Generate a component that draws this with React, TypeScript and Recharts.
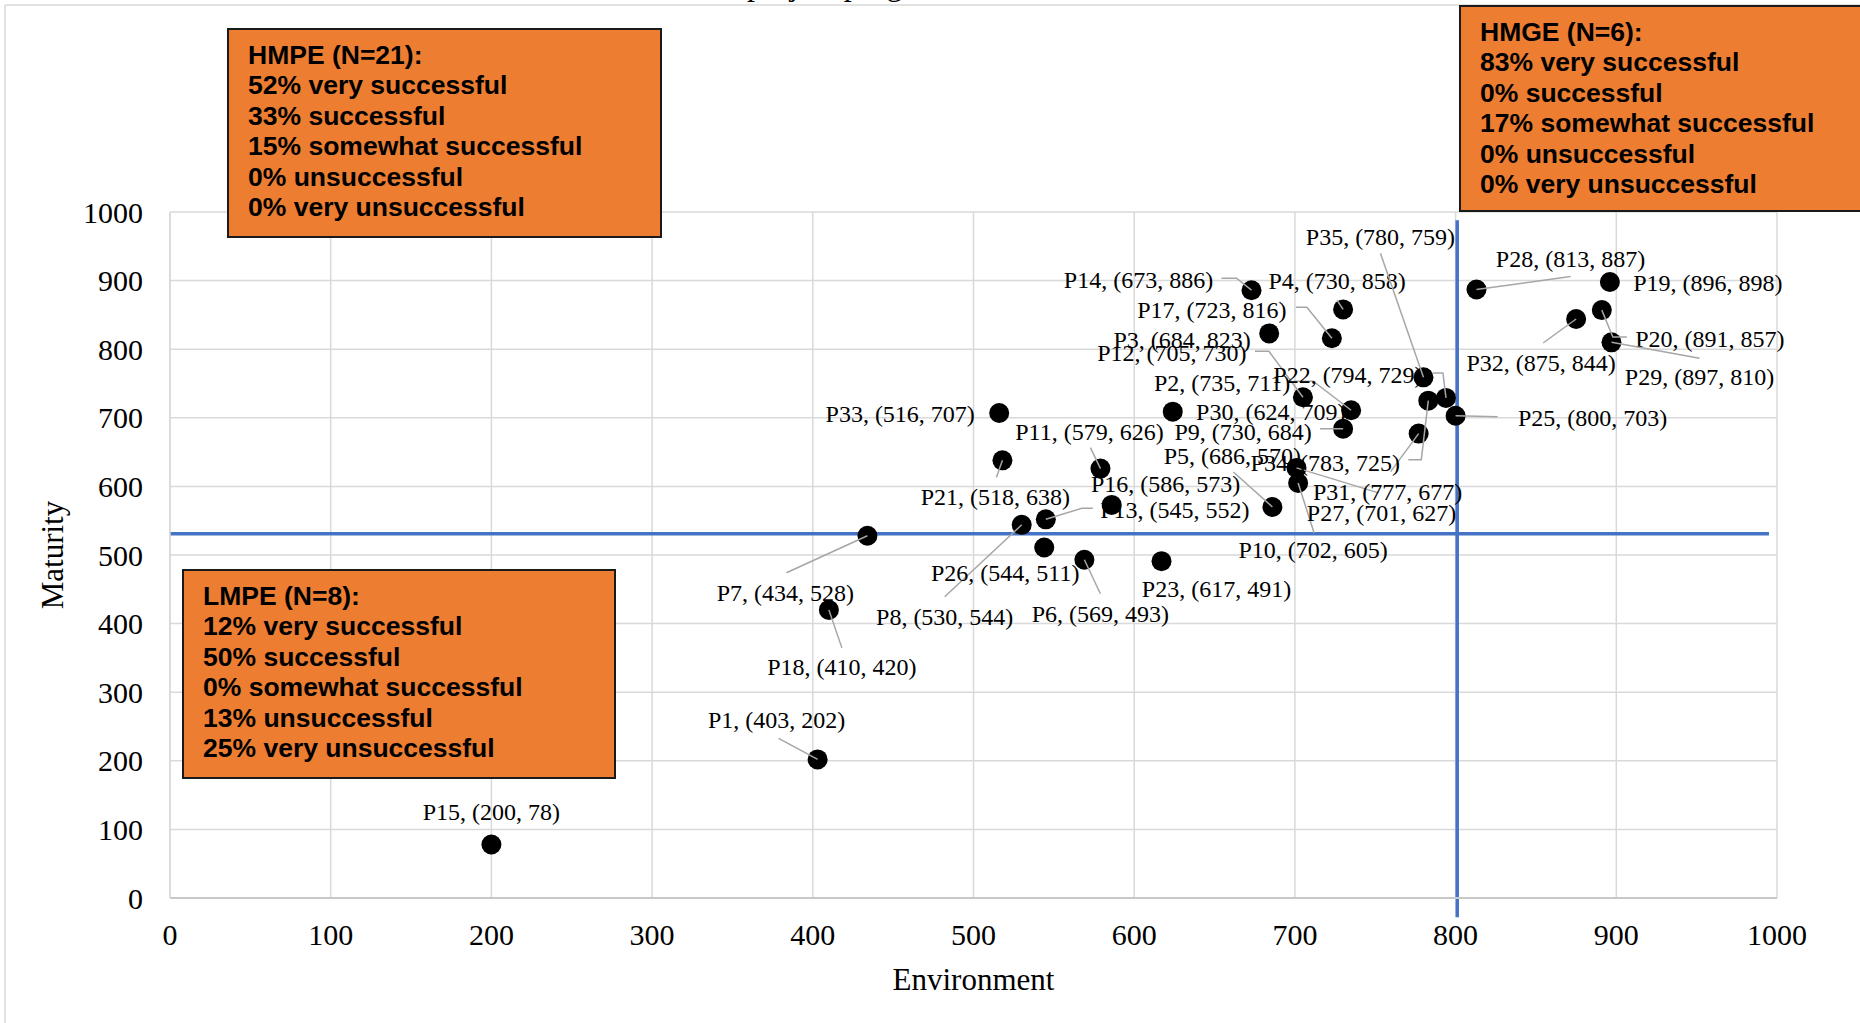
import {
  CartesianGrid,
  ReferenceLine,
  Scatter,
  ScatterChart,
  XAxis,
  YAxis,
} from "recharts";

const pointIds = [
  "P1", "P2", "P3", "P4", "P5", "P6", "P7", "P8", "P9", "P10", "P11", "P12",
  "P13", "P14", "P15", "P16", "P17", "P18", "P19", "P20", "P21", "P22", "P23",
  "P25", "P26", "P27", "P28", "P29", "P30", "P31", "P32", "P33", "P34", "P35",
];
const environment = [
  403, 735, 684, 730, 686, 569, 434, 530, 730, 702, 579, 705,
  545, 673, 200, 586, 723, 410, 896, 891, 518, 794, 617,
  800, 544, 701, 813, 897, 624, 777, 875, 516, 783, 780,
];
const maturity = [
  202, 711, 823, 858, 570, 493, 528, 544, 684, 605, 626, 730,
  552, 886, 78, 573, 816, 420, 898, 857, 638, 729, 491,
  703, 511, 627, 887, 810, 709, 677, 844, 707, 725, 759,
];
const axisTicks = [0, 100, 200, 300, 400, 500, 600, 700, 800, 900, 1000];

// quadrant split lines
const splitEnvironment = 801;
const splitMaturity = 531;

const hmpeLines = [
  "HMPE (N=21):",
  "52% very successful",
  "33% successful",
  "15% somewhat successful",
  "0% unsuccessful",
  "0% very unsuccessful",
];
const hmgeLines = [
  "HMGE (N=6):",
  "83% very successful",
  "0% successful",
  "17% somewhat successful",
  "0% unsuccessful",
  "0% very unsuccessful",
];
const lmpeLines = [
  "LMPE (N=8):",
  "12% very successful",
  "50% successful",
  "0% somewhat successful",
  "13% unsuccessful",
  "25% very unsuccessful",
];

const data = pointIds.map((id, i) => ({
  id,
  x: environment[i],
  y: maturity[i],
}));

// label placement (pixel offsets from the dot), leader = polyline start points
type LabelPos = { dx: number; dy: number; leader?: [number, number][] };
const labelLayout: Record<string, LabelPos> = {
  P1: { dx: -41, dy: -39, leader: [[-39, -21]] },
  P2: { dx: -129, dy: -27, leader: [[-58, -29], [-38, -29]] },
  P3: { dx: -87, dy: 7 },
  P4: { dx: -6, dy: -28, leader: [[-6, -9]] },
  P5: { dx: -40, dy: -51, leader: [[-39, -35]] },
  P6: { dx: 16, dy: 54, leader: [[16, 34]] },
  P7: { dx: -82, dy: 57, leader: [[-81, 37]] },
  P8: { dx: -77, dy: 92, leader: [[-77, 72]] },
  P9: { dx: -100, dy: 3, leader: [[-23, 0]] },
  P10: { dx: 15, dy: 67, leader: [[16, 50]] },
  P11: { dx: -11, dy: -37, leader: [[-10, -21]] },
  P12: { dx: -131, dy: -44, leader: [[-48, -46], [-34, -46]] },
  P13: { dx: 129, dy: -9, leader: [[47, -11], [36, -11]] },
  P14: { dx: -113, dy: -10, leader: [[-30, -12], [-15, -12]] },
  P15: { dx: 0, dy: -32 },
  P16: { dx: 54, dy: -21 },
  P17: { dx: -120, dy: -28, leader: [[-36, -31], [-25, -31]] },
  P18: { dx: 13, dy: 57, leader: [[13, 38]] },
  P19: { dx: 98, dy: 1 },
  P20: { dx: 108, dy: 29, leader: [[25, 27], [11, 27]] },
  P21: { dx: -7, dy: 37, leader: [[-6, 17]] },
  P22: { dx: -98, dy: -23, leader: [[-13, -25], [-3, -25]] },
  P23: { dx: 55, dy: 28 },
  P25: { dx: 137, dy: 2, leader: [[42, 1]] },
  P26: { dx: -39, dy: 26 },
  P27: { dx: 85, dy: 45, leader: [[82, 25]] },
  P28: { dx: 94, dy: -31, leader: [[94, -13]] },
  P29: { dx: 88, dy: 35, leader: [[88, 16]] },
  P30: { dx: 98, dy: 0 },
  P31: { dx: -31, dy: 58, leader: [[-28, 38]] },
  P32: { dx: -35, dy: 44, leader: [[-33, 24]] },
  P33: { dx: -99, dy: 1 },
  P34: { dx: -103, dy: 62, leader: [[-20, 59], [-7, 59]] },
  P35: { dx: -43, dy: -140, leader: [[-43, -124]] },
};

const SERIF = "'Liberation Serif', 'Times New Roman', serif";
const SANS = "'Liberation Sans', Arial, sans-serif";

function Dot(props: any) {
  return <circle cx={props.cx} cy={props.cy} r={10} fill="#000" />;
}

function PointLabel(props: any) {
  const { cx, cy, payload } = props;
  const pos = labelLayout[payload.id] ?? { dx: 0, dy: -25 };
  const pts = pos.leader
    ? [...pos.leader.map(([ox, oy]) => `${cx + ox},${cy + oy}`), `${cx},${cy}`].join(" ")
    : null;
  return (
    <g>
      {pts && (
        <polyline points={pts} fill="none" stroke="#a6a6a6" strokeWidth={1.5} />
      )}
      <text
        x={cx + pos.dx}
        y={cy + pos.dy + 8}
        textAnchor="middle"
        fontFamily={SERIF}
        fontSize={24}
        fill="#000"
      >
        {`${payload.id}, (${payload.x}, ${payload.y})`}
      </text>
    </g>
  );
}

function GroupBox({ x, y, w, h, lines }: { x: number; y: number; w: number; h: number; lines: string[] }) {
  return (
    <g>
      <rect x={x} y={y} width={w} height={h} fill="#ED7D31" stroke="#1a1a1a" strokeWidth={2} />
      {lines.map((t, i) => (
        <text
          key={t}
          x={x + 20}
          y={y + 35 + i * 30.4}
          fontFamily={SANS}
          fontWeight="bold"
          fontSize={26.5}
          fill="#000"
        >
          {t}
        </text>
      ))}
    </g>
  );
}

export default function App() {
  return (
    <div
      style={{
        position: "absolute",
        left: 0,
        top: 0,
        width: 1860,
        height: 1023,
        overflow: "hidden",
        background: "#fff",
      }}
    >
      <ScatterChart
        width={1860}
        height={1023}
        margin={{ top: 212, right: 83, bottom: 65, left: 110 }}
      >
        <CartesianGrid stroke="#d9d9d9" strokeWidth={1.5} />
        <XAxis
          type="number"
          dataKey="x"
          domain={[0, 1000]}
          ticks={axisTicks}
          height={60}
          tickSize={0}
          tickMargin={26}
          axisLine={{ stroke: "#c8c8c8", strokeWidth: 2 }}
          tick={{ fill: "#000", fontSize: 30, fontFamily: SERIF }}
        />
        <YAxis
          type="number"
          dataKey="y"
          domain={[0, 1000]}
          ticks={axisTicks}
          width={60}
          tickSize={0}
          tickMargin={27}
          axisLine={{ stroke: "#d9d9d9", strokeWidth: 1.5 }}
          tick={{ fill: "#000", fontSize: 30, fontFamily: SERIF }}
        />
        <ReferenceLine
          segment={[
            { x: 0, y: splitMaturity },
            { x: 995, y: splitMaturity },
          ]}
          stroke="#4472C4"
          strokeWidth={3.5}
          ifOverflow="visible"
        />
        <ReferenceLine
          segment={[
            { x: splitEnvironment, y: -28 },
            { x: splitEnvironment, y: 988 },
          ]}
          stroke="#4472C4"
          strokeWidth={3.5}
          ifOverflow="visible"
        />
        <Scatter data={data} shape={Dot} isAnimationActive={false} />
        <Scatter data={data} shape={PointLabel} isAnimationActive={false} legendType="none" />
      </ScatterChart>

      <svg
        width={1860}
        height={1023}
        style={{ position: "absolute", left: 0, top: 0, pointerEvents: "none" }}
      >
        <line x1={5} y1={5} x2={1860} y2={5} stroke="#d9d9d9" strokeWidth={1.5} />
        <line x1={5} y1={5} x2={5} y2={1023} stroke="#d9d9d9" strokeWidth={1.5} />
        <text x={747} y={-5} fontFamily={SERIF} fontSize={32} fill="#000">
          project progress
        </text>
        <text x={973.5} y={990} textAnchor="middle" fontFamily={SERIF} fontSize={31} fill="#000">
          Environment
        </text>
        <text
          x={63}
          y={555}
          transform="rotate(-90 63 555)"
          textAnchor="middle"
          fontFamily={SERIF}
          fontSize={31}
          fill="#000"
        >
          Maturity
        </text>
        <GroupBox x={228} y={29} w={433} h={208} lines={hmpeLines} />
        <GroupBox x={1460} y={6} w={410} h={205} lines={hmgeLines} />
        <GroupBox x={183} y={570} w={432} h={208} lines={lmpeLines} />
      </svg>
    </div>
  );
}
